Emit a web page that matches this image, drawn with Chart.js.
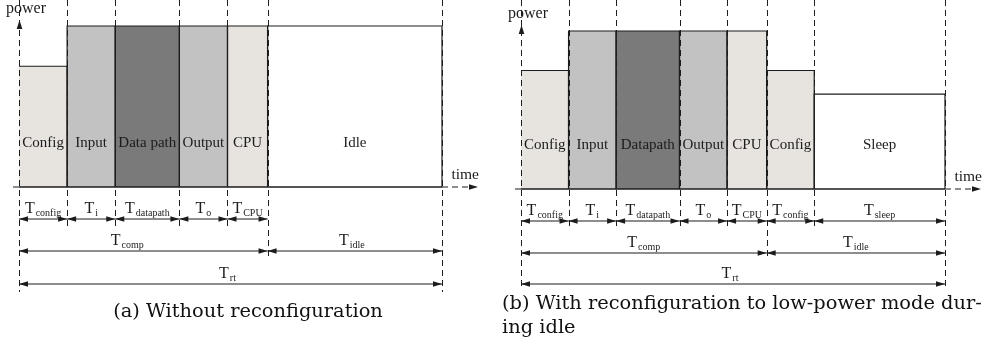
<!DOCTYPE html>
<html><head><meta charset="utf-8">
<script src="https://cdn.jsdelivr.net/npm/chart.js@4"></script>
<style>
html,body{margin:0;padding:0;background:#fff}
body{width:996px;height:356px;overflow:hidden;position:relative}
.panel{position:absolute;top:0;width:498px;height:356px}
.cap{position:absolute;font-family:"DejaVu Serif",serif;font-size:19.4px;line-height:24px;color:#111;white-space:nowrap}
</style></head><body>
<div class="panel" style="left:0"><canvas id="a" width="498" height="356"></canvas></div>
<div class="panel" style="left:498px"><canvas id="b" width="498" height="356"></canvas></div>
<div class="cap" id="capA" style="left:0;width:496px;text-align:center;top:299px">(a) Without reconfiguration</div>
<div class="cap" id="capB" style="left:502px;top:291px">(b) With reconfiguration to low-power mode dur-<br>ing idle</div>
<script>
// ---- data: panel (a) ----
const aSegments  = ['Config','Input','Data path','Output','CPU','Idle'];
const aDurations = [1.2, 1.2, 1.6, 1.2, 1.0, 4.35];
const aPower     = [3, 4, 4, 4, 4, 4];
const aPhaseSubs = ['config','i','datapath','o','CPU'];
const aGroupSubs = ['comp','idle'];
const aTotalSub  = 'rt';
// ---- data: panel (b) ----
const bSegments  = ['Config','Input','Datapath','Output','CPU','Config','Sleep'];
const bDurations = [1.2, 1.2, 1.6, 1.2, 1.0, 1.2, 3.3];
const bPower     = [3, 4, 4, 4, 4, 3, 2.4];
const bPhaseSubs = ['config','i','datapath','o','CPU','config','sleep'];
const bGroupSubs = ['comp','idle'];
const bTotalSub  = 'rt';
const axisLabels = ['power','time'];

// ---- styles ----
const fillFor = {'Config':'#e7e4e0','Input':'#c2c2c2','Data path':'#7a7a7a','Datapath':'#7a7a7a',
                 'Output':'#c2c2c2','CPU':'#e7e4e0','Idle':'#ffffff','Sleep':'#ffffff'};
const INK = '#1c1c1c';
const SERIF = '"Liberation Serif","Times New Roman",serif';

function makeChart(id, segs, durs, pow, phaseSubs, groupSubs, totalSub, layout){
  const bounds=[0];
  durs.forEach(d=>bounds.push(bounds[bounds.length-1]+d));
  const total=bounds[bounds.length-1];
  const compEnd = 5; // computation ends after CPU phase
  const datasets = segs.map((s,i)=>{
    const pts = [];
    if(i>0) pts.push({x:bounds[i],y:0});
    pts.push({x:bounds[i],y:pow[i]},{x:bounds[i+1],y:pow[i]},{x:bounds[i+1],y:0});
    return {label:s,data:pts,showLine:true,fill:'origin',backgroundColor:fillFor[s],
      borderColor:INK,borderWidth:1.2,pointRadius:0,tension:0,clip:false};
  });
  const rowsY = layout.rows;
  const depth = layout.depth;

  function arrowHead(ctx,x,y,dir,horizontal){
    const L=9,W=2.8;
    ctx.beginPath();
    if(horizontal){ctx.moveTo(x,y);ctx.lineTo(x-dir*L,y-W);ctx.lineTo(x-dir*L,y+W);}
    else{ctx.moveTo(x,y);ctx.lineTo(x-W,y-dir*L);ctx.lineTo(x+W,y-dir*L);}
    ctx.closePath();ctx.fill();
  }
  function dim(ctx,xa,xb,y){
    ctx.setLineDash([]);
    ctx.beginPath();ctx.moveTo(xa,y);ctx.lineTo(xb,y);ctx.stroke();
    arrowHead(ctx,xa,y,-1,true);arrowHead(ctx,xb,y,1,true);
  }
  function tLabel(ctx,sub,cx,base){
    ctx.font='16px '+SERIF;const w1=ctx.measureText('T').width;
    ctx.font='10px '+SERIF;const w2=ctx.measureText(sub).width;
    const x0=cx-(w1+w2+1)/2;
    ctx.textAlign='left';ctx.textBaseline='alphabetic';
    ctx.font='16px '+SERIF;ctx.fillText('T',x0,base);
    ctx.font='10px '+SERIF;ctx.fillText(sub,x0+w1+1,base+3);
  }

  const annot={id:'annot'+id,afterDatasetsDraw(chart){
    const ctx=chart.ctx, xs=chart.scales.x, ys=chart.scales.y;
    const X=v=>xs.getPixelForValue(v);
    const y0=ys.getPixelForValue(0), yTop=ys.getPixelForValue(4);
    ctx.save();
    ctx.strokeStyle=INK;ctx.fillStyle=INK;ctx.lineWidth=1;
    // dashed boundary lines
    ctx.setLineDash([6,4]);
    bounds.forEach((b,i)=>{
      const bottom=rowsY[depth[i]-1]+layout.ext[depth[i]-1];
      ctx.beginPath();ctx.moveTo(Math.round(X(b))+0.5,0);ctx.lineTo(Math.round(X(b))+0.5,bottom);ctx.stroke();
    });
    // time axis
    ctx.setLineDash([]);ctx.lineWidth=1.3;
    ctx.beginPath();ctx.moveTo(X(0),y0);ctx.lineTo(X(total),y0);ctx.stroke();
    ctx.lineWidth=1;ctx.setLineDash([6,4]);
    ctx.beginPath();ctx.moveTo(X(0)-6,y0);ctx.lineTo(X(0),y0);ctx.stroke();
    const xEnd=X(total)+36;
    ctx.beginPath();ctx.moveTo(X(total),y0);ctx.lineTo(xEnd-6,y0);ctx.stroke();
    ctx.setLineDash([]);
    arrowHead(ctx,xEnd,y0,1,true);
    // power axis arrow
    arrowHead(ctx,X(0)+0.5,yTop-6,-1,false);
    // axis labels
    ctx.font='16px '+SERIF;ctx.textBaseline='alphabetic';
    ctx.textAlign='left';ctx.fillText(axisLabels[0],X(0)-13,yTop-13);
    ctx.font='15.5px '+SERIF;
    ctx.textAlign='right';ctx.fillText(axisLabels[1],xEnd+1,y0-8);
    // segment labels
    ctx.font='15px '+SERIF;
    ctx.textAlign='center';
    segs.forEach((s,i)=>{ctx.fillText(s,(X(bounds[i])+X(bounds[i+1]))/2,y0-40);});
    // dimension rows
    ctx.lineWidth=1.2;
    phaseSubs.forEach((s,i)=>{
      const xa=X(bounds[i]),xb=X(bounds[i+1]);
      dim(ctx,xa,xb,rowsY[0]);tLabel(ctx,s,(xa+xb)/2,rowsY[0]-6);
    });
    const g=[[0,compEnd],[compEnd,segs.length]];
    groupSubs.forEach((s,i)=>{
      const xa=X(bounds[g[i][0]]),xb=X(bounds[g[i][1]]);
      dim(ctx,xa,xb,rowsY[1]);tLabel(ctx,s,(xa+xb)/2+(layout.groupShift[i]||0),rowsY[1]-6);
    });
    dim(ctx,X(0),X(total),rowsY[2]);tLabel(ctx,totalSub,(X(0)+X(total))/2-3,rowsY[2]-6);
    ctx.restore();
  }};

  return new Chart(document.getElementById(id),{
    type:'scatter',
    data:{datasets},
    options:{responsive:false,animation:false,events:[],
      layout:{padding:layout.padding},
      plugins:{legend:{display:false},tooltip:{enabled:false},filler:{propagate:false,drawTime:'beforeDatasetsDraw'}},
      scales:{x:{type:'linear',min:0,max:total,display:false},y:{type:'linear',min:0,max:4,display:false}}
    },
    plugins:[annot]
  });
}

makeChart('a',aSegments,aDurations,aPower,aPhaseSubs,aGroupSubs,aTotalSub,
  {padding:{left:19,right:56,top:26,bottom:169},rows:[219,251,284],depth:[3,1,1,1,1,2,3],ext:[9,5,8],groupShift:[-16,-3]});
makeChart('b',bSegments,bDurations,bPower,bPhaseSubs,bGroupSubs,bTotalSub,
  {padding:{left:23,right:51,top:31,bottom:167},rows:[221,253,284],depth:[3,1,1,1,1,2,1,3],ext:[9,6,6],groupShift:[0,0]});
</script>
</body></html>
